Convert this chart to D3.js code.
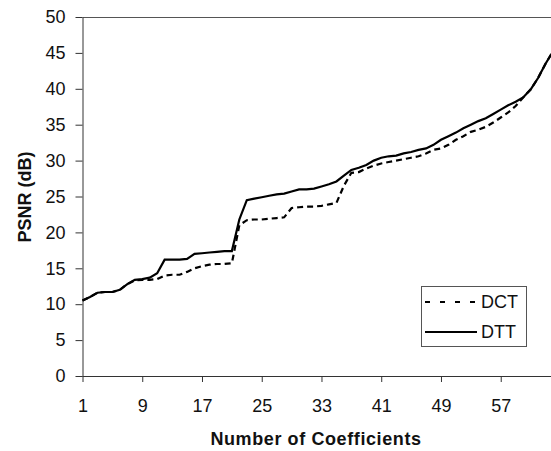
<!DOCTYPE html>
<html>
<head>
<meta charset="utf-8">
<script src="https://cdn.jsdelivr.net/npm/d3@7"></script>
<style>
  body { margin: 0; background: #fff; }
  text { font-family: "Liberation Sans", Arial, sans-serif; fill: #111; }
</style>
</head>
<body>
<div id="chart"></div>
<script>
// PSNR vs number of kept coefficients
var coeffs = d3.range(1, 65);
var dct = [10.5, 11.0, 11.6, 11.7, 11.7, 12.0, 12.8, 13.3, 13.4, 13.4,
  13.5, 14.0, 14.1, 14.1, 14.5, 15.0, 15.3, 15.5, 15.6, 15.6,
  15.7, 21.0, 21.7, 21.8, 21.8, 21.9, 22.0, 22.1, 23.4, 23.5,
  23.6, 23.6, 23.7, 23.9, 24.1, 26.5, 28.3, 28.4, 28.9, 29.3,
  29.6, 29.8, 30.0, 30.2, 30.4, 30.6, 31.0, 31.5, 31.7, 32.2,
  32.9, 33.4, 34.0, 34.3, 34.7, 35.3, 36.0, 36.7, 37.6, 38.8,
  39.9, 41.5, 43.5, 45.2];
var dtt = [10.5, 11.0, 11.6, 11.7, 11.7, 12.0, 12.8, 13.4, 13.5, 13.7,
  14.3, 16.2, 16.2, 16.2, 16.3, 17.0, 17.1, 17.2, 17.3, 17.4,
  17.4, 21.8, 24.5, 24.7, 24.9, 25.1, 25.3, 25.4, 25.7, 26.0,
  26.0, 26.1, 26.4, 26.7, 27.1, 27.9, 28.7, 29.0, 29.4, 30.0,
  30.4, 30.6, 30.7, 31.0, 31.2, 31.5, 31.7, 32.2, 32.9, 33.4,
  33.9, 34.5, 35.0, 35.5, 35.9, 36.5, 37.1, 37.7, 38.2, 38.8,
  39.9, 41.5, 43.5, 45.2];
var xTicks = [1, 9, 17, 25, 33, 41, 49, 57];
var yTicks = d3.range(0, 51, 5);
var seriesNames = ["DCT", "DTT"];

var width = 551,
  height = 451,
  plotLeft = 82.5,
  plotRight = 553,
  plotTop = 17,
  plotBottom = 376;

var svg = d3.select("#chart").append("svg")
  .attr("width", width)
  .attr("height", height);

var x = d3.scalePoint()
  .domain(coeffs)
  .range([plotLeft, plotRight]);

var y = d3.scaleLinear()
  .domain([0, 50])
  .range([plotBottom, plotTop]);

// top border of the plot area
svg.append("line")
  .attr("x1", plotLeft).attr("x2", width)
  .attr("y1", plotTop + 0.5).attr("y2", plotTop + 0.5)
  .attr("stroke", "#555").attr("stroke-width", 1);

var yAxis = svg.append("g")
  .attr("transform", "translate(" + plotLeft + ",0)")
  .call(d3.axisLeft(y).tickValues(yTicks).tickSize(7).tickPadding(10).tickSizeOuter(0));

var xAxis = svg.append("g")
  .attr("transform", "translate(0," + plotBottom + ")")
  .call(d3.axisBottom(x).tickValues(xTicks).tickSize(6).tickPadding(17).tickSizeOuter(0));

[yAxis, xAxis].forEach(function(g) {
  g.select(".domain").attr("stroke", "#333");
  g.selectAll(".tick line").attr("stroke", "#333");
  g.selectAll(".tick text")
    .attr("font-size", 18)
    .attr("font-family", "Liberation Sans, Arial, sans-serif")
    .attr("fill", "#111");
});
xAxis.select(".domain").attr("d", "M" + plotLeft + ",0.5H" + width);

svg.append("text")
  .attr("x", 316)
  .attr("y", 445)
  .attr("text-anchor", "middle")
  .attr("font-size", 18)
  .attr("font-weight", "bold")
  .attr("letter-spacing", 0.6)
  .text("Number of Coefficients");

svg.append("text")
  .attr("transform", "translate(31,197) rotate(-90)")
  .attr("text-anchor", "middle")
  .attr("font-size", 18)
  .attr("font-weight", "bold")
  .text("PSNR (dB)");

var line = d3.line()
  .x(function(d, i) { return x(coeffs[i]); })
  .y(function(d) { return y(d); });

var plot = svg.append("g");

plot.append("path")
  .datum(dtt)
  .attr("fill", "none")
  .attr("stroke", "#000")
  .attr("stroke-width", 2.2)
  .attr("d", line);

plot.append("path")
  .datum(dct)
  .attr("fill", "none")
  .attr("stroke", "#000")
  .attr("stroke-width", 2.2)
  .attr("stroke-dasharray", "6,4")
  .attr("d", line);

// legend
var legend = svg.append("g");
legend.append("rect")
  .attr("x", 421.5).attr("y", 286.5)
  .attr("width", 105).attr("height", 60)
  .attr("fill", "#fff")
  .attr("stroke", "#555");

seriesNames.forEach(function(name, i) {
  var ly = 302 + i * 30;
  legend.append("line")
    .attr("x1", 425).attr("x2", 477)
    .attr("y1", ly).attr("y2", ly)
    .attr("stroke", "#000")
    .attr("stroke-width", 2.2)
    .attr("stroke-dasharray", name === "DCT" ? "5,10" : null);
  legend.append("text")
    .attr("x", 481)
    .attr("y", ly)
    .attr("dy", "0.35em")
    .attr("font-size", 18)
    .text(name);
});
</script>
</body>
</html>
